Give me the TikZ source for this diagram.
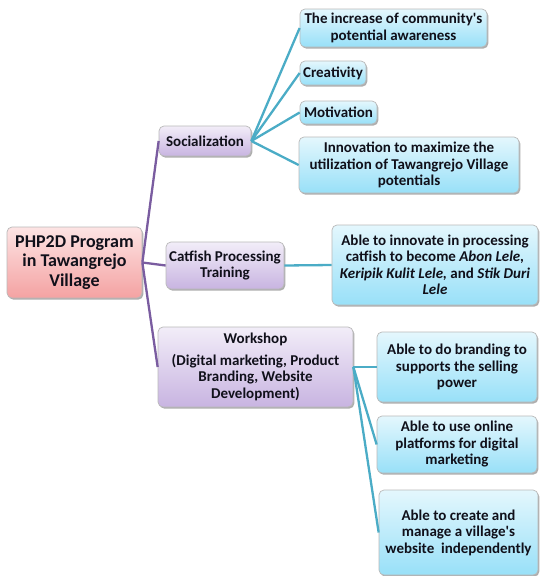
\documentclass[tikz,border=0pt]{standalone}
\usepackage{fontspec}
\setmainfont{Carlito}[Ligatures=TeXOff]
\usetikzlibrary{shadows}
\definecolor{pinkT}{HTML}{FDE4E4}
\definecolor{pinkB}{HTML}{F4A2A2}
\definecolor{purT}{HTML}{F2EDF8}
\definecolor{purB}{HTML}{C8B4E1}
\definecolor{cyT}{HTML}{E4F7FD}
\definecolor{cyB}{HTML}{98E0F8}
\definecolor{purLine}{HTML}{7A5CA0}
\definecolor{cyLine}{HTML}{4BACC6}
\definecolor{txt}{HTML}{10101A}
\begin{document}
\begin{tikzpicture}[x=1pt,y=-1pt,
  box/.style={rounded corners=5pt, draw=gray!55, line width=0.7pt, align=center,
    inner sep=1pt, text=txt,
    font=\fontsize{15}{16.5}\selectfont\bfseries,
    drop shadow={shadow xshift=1.3pt, shadow yshift=-1.6pt, opacity=0.45, fill=black!70}},
  rootbox/.style={box, top color=pinkT, bottom color=pinkB,
    font=\fontsize{18}{19.5}\selectfont\bfseries},
  midbox/.style={box, top color=purT, bottom color=purB},
  leafbox/.style={box, top color=cyT, bottom color=cyB},
  pline/.style={draw=purLine, line width=2.3pt},
  cline/.style={draw=cyLine, line width=2.3pt}
]
\useasboundingbox (0,0) rectangle (539,576);

% root
\node[rootbox, minimum width=135pt, minimum height=71pt] (root) at (74.5,262.5)
  {PHP2D Program\\in Tawangrejo\\Village};

% middle level
\node[midbox, minimum width=92pt, minimum height=30pt] (soc) at (205,141) {Socialization};
\node[midbox, minimum width=118pt, minimum height=47pt] (cat) at (225,265.5)
  {Catfish Processing\\Training};
\node[midbox, minimum width=195pt, minimum height=80pt] (work) at (255.5,367)
  {Workshop\\[5pt](Digital marketing, Product\\Branding, Website\\Development)};

% leaves
\node[leafbox, minimum width=187pt, minimum height=38pt] (l1) at (393.5,28)
  {The increase of community's\\potential awareness};
\node[leafbox, minimum width=66pt, minimum height=24pt] (l2) at (333,73) {Creativity};
\node[leafbox, minimum width=77pt, minimum height=23pt] (l3) at (338.5,112.5) {Motivation};
\node[leafbox, minimum width=220pt, minimum height=56pt] (l4) at (409,165)
  {Innovation to maximize the\\utilization of Tawangrejo Village\\potentials};
\node[leafbox, minimum width=206pt, minimum height=80pt] (l5) at (435,265)
  {Able to innovate in processing\\catfish to become \textit{Abon Lele,}\\\textit{Keripik Kulit Lele,} and \textit{Stik Duri}\\\textit{Lele}};
\node[leafbox, minimum width=160pt, minimum height=70pt] (l6) at (457,367)
  {Able to do branding to\\supports the selling\\power};
\node[leafbox, minimum width=160pt, minimum height=57pt] (l7) at (457,444.5)
  {Able to use online\\platforms for digital\\marketing};
\node[leafbox, minimum width=159pt, minimum height=85pt] (l8) at (458.5,532.5)
  {Able to create and\\manage a village's\\website\ \ independently};

% connectors
\draw[pline] (root.east) -- (soc.west);
\draw[pline] (root.east) -- (cat.west);
\draw[pline] (root.east) -- (work.west);
\draw[cline] (soc.east) -- (l1.west);
\draw[cline] (soc.east) -- (l2.west);
\draw[cline] (soc.east) -- (l3.west);
\draw[cline] (soc.east) -- (l4.west);
\draw[cline] (cat.east) -- (l5.west);
\draw[cline] (work.east) -- (l6.west);
\draw[cline] (work.east) -- (l7.west);
\draw[cline] (work.east) -- (l8.west);
\end{tikzpicture}
\end{document}
